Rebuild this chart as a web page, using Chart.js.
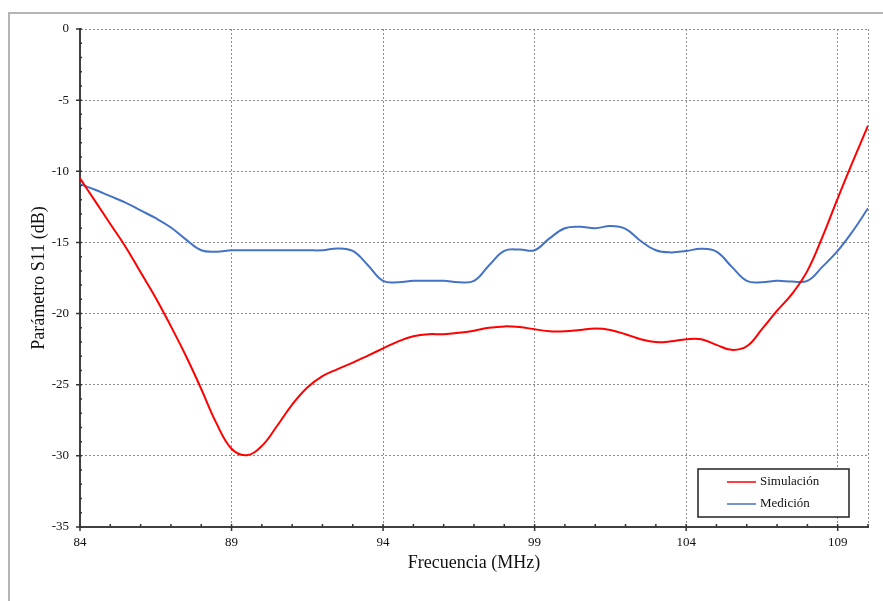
<!DOCTYPE html>
<html>
<head>
<meta charset="utf-8">
<script src="https://cdn.jsdelivr.net/npm/chart.js@4.4.1/dist/chart.umd.min.js"></script>
<style>
  html, body { margin: 0; padding: 0; background: #fff; }
  #wrap { position: relative; width: 883px; height: 601px; overflow: hidden; }
  #frame {
    position: absolute; left: 8px; top: 12px; width: 1000px; height: 1000px;
    border-left: 2px solid #b4b4b4; border-top: 2px solid #b4b4b4;
  }
  canvas { position: absolute; left: 0; top: 0; }
</style>
</head>
<body>
<div id="wrap">
  <div id="frame"></div>
  <canvas id="chart" width="883" height="601"></canvas>
</div>
<script>
// frequency in MHz, every 0.5 MHz
const freq = [
  84, 84.5, 85, 85.5, 86, 86.5, 87, 87.5, 88, 88.5,
  89, 89.5, 90, 90.5, 91, 91.5, 92, 92.5, 93, 93.5,
  94, 94.5, 95, 95.5, 96, 96.5, 97, 97.5, 98, 98.5,
  99, 99.5, 100, 100.5, 101, 101.5, 102, 102.5, 103, 103.5,
  104, 104.5, 105, 105.5, 106, 106.5, 107, 107.5, 108, 108.5,
  109, 109.5, 110
];

// S11 (dB)
const simulacion = [
  -10.5, -12.1, -13.7, -15.3, -17.1, -18.9, -20.9, -23.0, -25.3, -27.7,
  -29.5, -29.95, -29.3, -27.9, -26.4, -25.2, -24.4, -23.9, -23.45, -22.95,
  -22.45, -21.95, -21.6, -21.45, -21.45, -21.35, -21.2, -21.0, -20.9, -20.95,
  -21.1, -21.25, -21.25, -21.15, -21.05, -21.15, -21.45, -21.8, -22.0, -21.95,
  -21.8, -21.8, -22.2, -22.55, -22.3, -21.1, -19.8, -18.6, -17.0, -14.6,
  -11.9, -9.3, -6.8
];

const medicion = [
  -10.9, -11.3, -11.75, -12.2, -12.75, -13.3, -13.95, -14.8, -15.55, -15.65,
  -15.55, -15.55, -15.55, -15.55, -15.55, -15.55, -15.55, -15.42, -15.6, -16.6,
  -17.7, -17.8, -17.7, -17.7, -17.7, -17.8, -17.7, -16.6, -15.6, -15.5,
  -15.55, -14.7, -14.0, -13.9, -14.0, -13.85, -14.05, -14.9, -15.55, -15.7,
  -15.6, -15.45, -15.65, -16.7, -17.7, -17.8, -17.7, -17.75, -17.7, -16.7,
  -15.6, -14.2, -12.6
];

const seriesNames = ["Simulación", "Medición"];
const seriesColors = ["#ff0000", "#4472c4"];

const xMin = 84, xMax = 110, xMajor = 5;
const yMin = -35, yMax = 0, yMajor = 5;

const serif = "'Liberation Serif', 'Times New Roman', serif";

function isMajorX(v) { return (v - xMin) % xMajor === 0; }
function isMajorY(v) { return v % yMajor === 0; }

// small in/out tick marks like the original plot
const tickMarks = {
  id: "tickMarks",
  afterDraw(chart) {
    const { ctx, scales: { x, y } } = chart;
    ctx.save();
    ctx.strokeStyle = "#333";
    ctx.lineWidth = 1.5;
    ctx.beginPath();
    x.ticks.forEach((t) => {
      const px = x.getPixelForValue(t.value);
      const major = isMajorX(t.value);
      ctx.moveTo(px, y.bottom - 3);
      ctx.lineTo(px, y.bottom + (major ? 4 : 0));
    });
    y.ticks.forEach((t) => {
      const py = y.getPixelForValue(t.value);
      const major = isMajorY(t.value);
      ctx.moveTo(x.left + 2, py);
      ctx.lineTo(x.left - (major ? 4 : 0), py);
    });
    ctx.stroke();
    ctx.restore();
  },
};

// legend box inside the plot, bottom right
const boxLegend = {
  id: "boxLegend",
  afterDraw(chart) {
    const { ctx, chartArea } = chart;
    const w = 151, h = 48;
    const left = chartArea.right - 19 - w;
    const top = chartArea.bottom - 10 - h;
    ctx.save();
    ctx.fillStyle = "#fff";
    ctx.fillRect(left, top, w, h);
    ctx.strokeStyle = "#222";
    ctx.lineWidth = 1.5;
    ctx.strokeRect(left, top, w, h);
    ctx.font = "13px " + serif;
    ctx.textBaseline = "middle";
    chart.data.datasets.forEach((ds, i) => {
      const cy = top + 13 + i * 22;
      ctx.strokeStyle = ds.borderColor;
      ctx.lineWidth = 1.5;
      ctx.beginPath();
      ctx.moveTo(left + 29, cy);
      ctx.lineTo(left + 58, cy);
      ctx.stroke();
      ctx.fillStyle = "#111";
      ctx.fillText(ds.label, left + 62, cy);
    });
    ctx.restore();
  },
};

new Chart(document.getElementById("chart"), {
  type: "line",
  data: {
    datasets: [
      {
        label: seriesNames[0],
        data: freq.map((f, i) => ({ x: f, y: simulacion[i] })),
        borderColor: seriesColors[0],
        borderWidth: 2,
        pointRadius: 0,
        tension: 0.4,
        fill: false,
      },
      {
        label: seriesNames[1],
        data: freq.map((f, i) => ({ x: f, y: medicion[i] })),
        borderColor: seriesColors[1],
        borderWidth: 2,
        pointRadius: 0,
        tension: 0.4,
        fill: false,
      },
    ],
  },
  options: {
    responsive: false,
    animation: false,
    layout: { padding: { top: 29, right: 15, bottom: 0, left: 0 } },
    plugins: {
      legend: { display: false },
      tooltip: { enabled: false },
    },
    scales: {
      x: {
        type: "linear",
        min: xMin,
        max: xMax,
        afterFit: (s) => { s.height = 74; },
        ticks: {
          stepSize: 1,
          autoSkip: false,
          maxRotation: 0,
          padding: 8,
          color: "#111",
          font: { family: serif, size: 13 },
          callback: (v) => (isMajorX(v) ? String(v) : ""),
        },
        grid: {
          drawTicks: false,
          lineWidth: 1,
          color: (c) => (c.tick && (isMajorX(c.tick.value) || c.tick.value === xMax) ? "#8a8a8a" : "rgba(0,0,0,0)"),
        },
        border: { display: true, color: "#404040", width: 2, dash: [2, 2] },
        title: {
          display: true,
          text: "Frecuencia (MHz)",
          color: "#111",
          font: { family: serif, size: 18 },
          padding: { top: 0, bottom: 27 },
        },
      },
      y: {
        min: yMin,
        max: yMax,
        afterFit: (s) => { s.width = 80; },
        ticks: {
          stepSize: 1,
          autoSkip: false,
          padding: 11,
          color: "#111",
          font: { family: serif, size: 13 },
          callback: (v) => (isMajorY(v) ? String(v) : ""),
        },
        grid: {
          drawTicks: false,
          lineWidth: 1,
          color: (c) => (c.tick && isMajorY(c.tick.value) ? "#8a8a8a" : "rgba(0,0,0,0)"),
        },
        border: { display: true, color: "#404040", width: 2, dash: [2, 2] },
        title: {
          display: true,
          text: "Parámetro S11 (dB)",
          color: "#111",
          font: { family: serif, size: 18 },
          padding: { top: 28, bottom: 0 },
        },
      },
    },
  },
  plugins: [tickMarks, boxLegend],
});
</script>
</body>
</html>
